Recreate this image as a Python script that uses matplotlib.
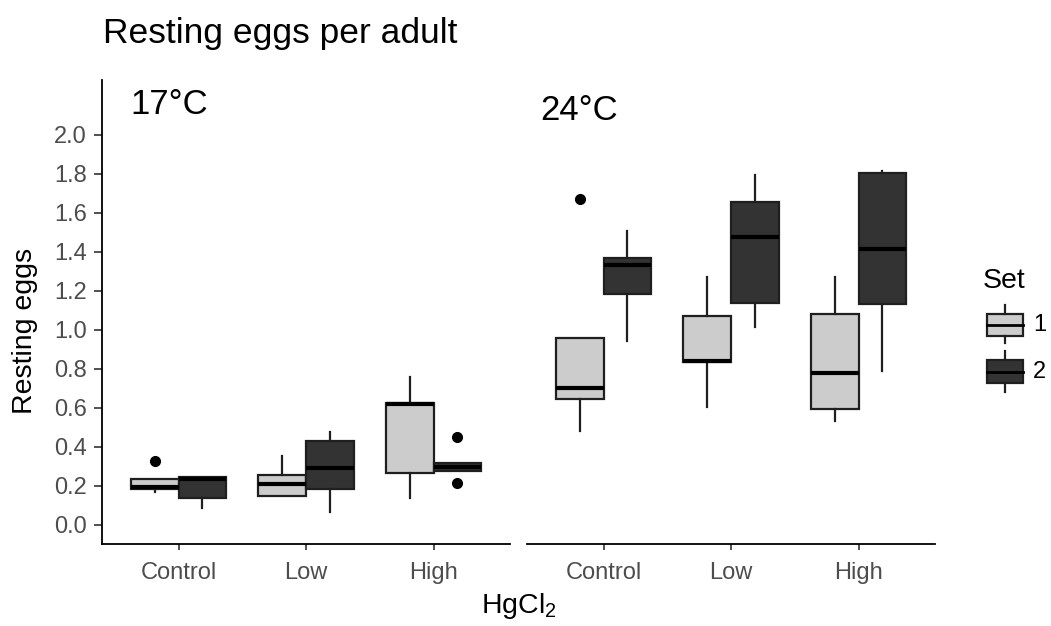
import matplotlib
matplotlib.use("Agg")
import matplotlib.pyplot as plt
from matplotlib.patches import Rectangle
from matplotlib.lines import Line2D

plt.rcParams['font.family'] = ['Liberation Sans', 'DejaVu Sans']

# ---- data ----
groups = ["Control", "Low", "High"]
temps = ["17\u00b0C", "24\u00b0C"]
sets = ["1", "2"]

# 17°C, Set 1
t17_s1_q1 = [0.183, 0.150, 0.267]
t17_s1_med = [0.197, 0.210, 0.622]
t17_s1_q3 = [0.236, 0.255, 0.627]
t17_s1_lo = [0.171, 0.150, 0.140]
t17_s1_hi = [0.236, 0.352, 0.760]
t17_s1_out = [[0.328], [], []]
# 17°C, Set 2
t17_s2_q1 = [0.140, 0.183, 0.277]
t17_s2_med = [0.237, 0.292, 0.296]
t17_s2_q3 = [0.246, 0.432, 0.318]
t17_s2_lo = [0.087, 0.067, 0.277]
t17_s2_hi = [0.246, 0.475, 0.318]
t17_s2_out = [[], [], [0.453, 0.215]]
# 24°C, Set 1
t24_s1_q1 = [0.648, 0.834, 0.597]
t24_s1_med = [0.704, 0.841, 0.779]
t24_s1_q3 = [0.957, 1.073, 1.082]
t24_s1_lo = [0.482, 0.603, 0.532]
t24_s1_hi = [0.957, 1.270, 1.270]
t24_s1_out = [[1.670], [], []]
# 24°C, Set 2
t24_s2_q1 = [1.183, 1.140, 1.132]
t24_s2_med = [1.333, 1.477, 1.415]
t24_s2_q3 = [1.371, 1.658, 1.803]
t24_s2_lo = [0.944, 1.017, 0.790]
t24_s2_hi = [1.508, 1.795, 1.815]
t24_s2_out = [[], [], []]

yticks = [0.0, 0.2, 0.4, 0.6, 0.8, 1.0, 1.2, 1.4, 1.6, 1.8, 2.0]

panels = [
    (temps[0],
     (t17_s1_q1, t17_s1_med, t17_s1_q3, t17_s1_lo, t17_s1_hi, t17_s1_out),
     (t17_s2_q1, t17_s2_med, t17_s2_q3, t17_s2_lo, t17_s2_hi, t17_s2_out)),
    (temps[1],
     (t24_s1_q1, t24_s1_med, t24_s1_q3, t24_s1_lo, t24_s1_hi, t24_s1_out),
     (t24_s2_q1, t24_s2_med, t24_s2_q3, t24_s2_lo, t24_s2_hi, t24_s2_out)),
]

fill_colors = ["#CCCCCC", "#333333"]
edge = "#1F1F1F"
W, H = 1051, 626

fig = plt.figure(figsize=(W / 100, H / 100), dpi=100)

def fx(px):
    return px / W

def fy(py):
    return 1 - py / H

ax_bottom = 543.5
ax_top = 80
axes_px = [(102, 510), (527, 935)]
label_pos = [(0.62, 2.154), (0.50, 2.128)]

def make_stats(q1, med, q3, lo, hi, out):
    return [dict(q1=a, med=b, q3=c, whislo=d, whishi=e, fliers=f)
            for a, b, c, d, e, f in zip(q1, med, q3, lo, hi, out)]

for k, (temp, s1, s2) in enumerate(panels):
    x0, x1 = axes_px[k]
    ax = fig.add_axes([fx(x0), fy(ax_bottom), fx(x1 - x0), (ax_bottom - ax_top) / H])
    pos = list(range(1, len(groups) + 1))
    for j, st in enumerate((s1, s2)):
        off = -0.1875 if j == 0 else 0.1875
        ax.bxp(make_stats(*st), positions=[p + off for p in pos], widths=0.375,
               patch_artist=True, showcaps=False, manage_ticks=False,
               boxprops=dict(facecolor=fill_colors[j], edgecolor=edge, linewidth=1.6),
               medianprops=dict(color="black", linewidth=3.0, solid_capstyle="butt"),
               whiskerprops=dict(color=edge, linewidth=1.6),
               flierprops=dict(marker="o", markerfacecolor="black",
                               markeredgecolor="black", markersize=7))
    ax.set_xlim(0.4, 3.6)
    ax.set_ylim(-0.095, 2.282)
    ax.set_xticks(pos)
    ax.set_xticklabels(groups)
    ax.set_yticks(yticks)
    ax.set_yticklabels([f"{v:.1f}" for v in yticks])
    for s in ["top", "right"]:
        ax.spines[s].set_visible(False)
    ax.spines["bottom"].set_linewidth(1.3)
    ax.spines["bottom"].set_color("black")
    ax.tick_params(axis="x", length=4.5, width=1.2, color="#333333", labelsize=17,
                   labelcolor="#4D4D4D", pad=8.5)
    ax.tick_params(axis="y", length=6, width=1.2, color="#333333", labelsize=17,
                   labelcolor="#4D4D4D", pad=5)
    if k == 0:
        ax.spines["left"].set_linewidth(1.3)
        ax.spines["left"].set_color("black")
    else:
        ax.spines["left"].set_visible(False)
        ax.tick_params(axis="y", left=False, labelleft=False)
    ax.text(label_pos[k][0], label_pos[k][1], temp, fontsize=25, ha="left", va="center")

# titles
fig.text(fx(103), fy(43), "Resting eggs per adult", fontsize=25.5, ha="left", va="baseline")
fig.text(fx(25), fy(331), "Resting eggs", fontsize=20.5, rotation=90, ha="center", va="center")
fig.text(fx(519), fy(606), "HgCl$_\\mathregular{2}$", fontsize=20.5, ha="center", va="center")

# legend
fig.text(fx(983), fy(281), "Set", fontsize=20.5, ha="left", va="center")
lax = fig.add_axes([0, 0, 1, 1], facecolor="none")
lax.set_xlim(0, W)
lax.set_ylim(H, 0)
lax.axis("off")
keys = [(314, 336, 305, 343), (360, 383, 351, 392)]
for j, (bt, bb, wt, wb) in enumerate(keys):
    xc = 1005
    lax.add_line(Line2D([xc, xc], [wt, bt], color=edge, linewidth=1.6))
    lax.add_line(Line2D([xc, xc], [bb, wb], color=edge, linewidth=1.6))
    lax.add_patch(Rectangle((987, bt), 36, bb - bt, facecolor=fill_colors[j],
                            edgecolor=edge, linewidth=1.6))
    lax.add_line(Line2D([987, 1023], [(bt + bb) / 2] * 2, color="black", linewidth=2.0))
    lax.text(1033, (bt + bb) / 2, sets[j], fontsize=17, ha="left", va="center")

fig.savefig("out.png", dpi=100)
